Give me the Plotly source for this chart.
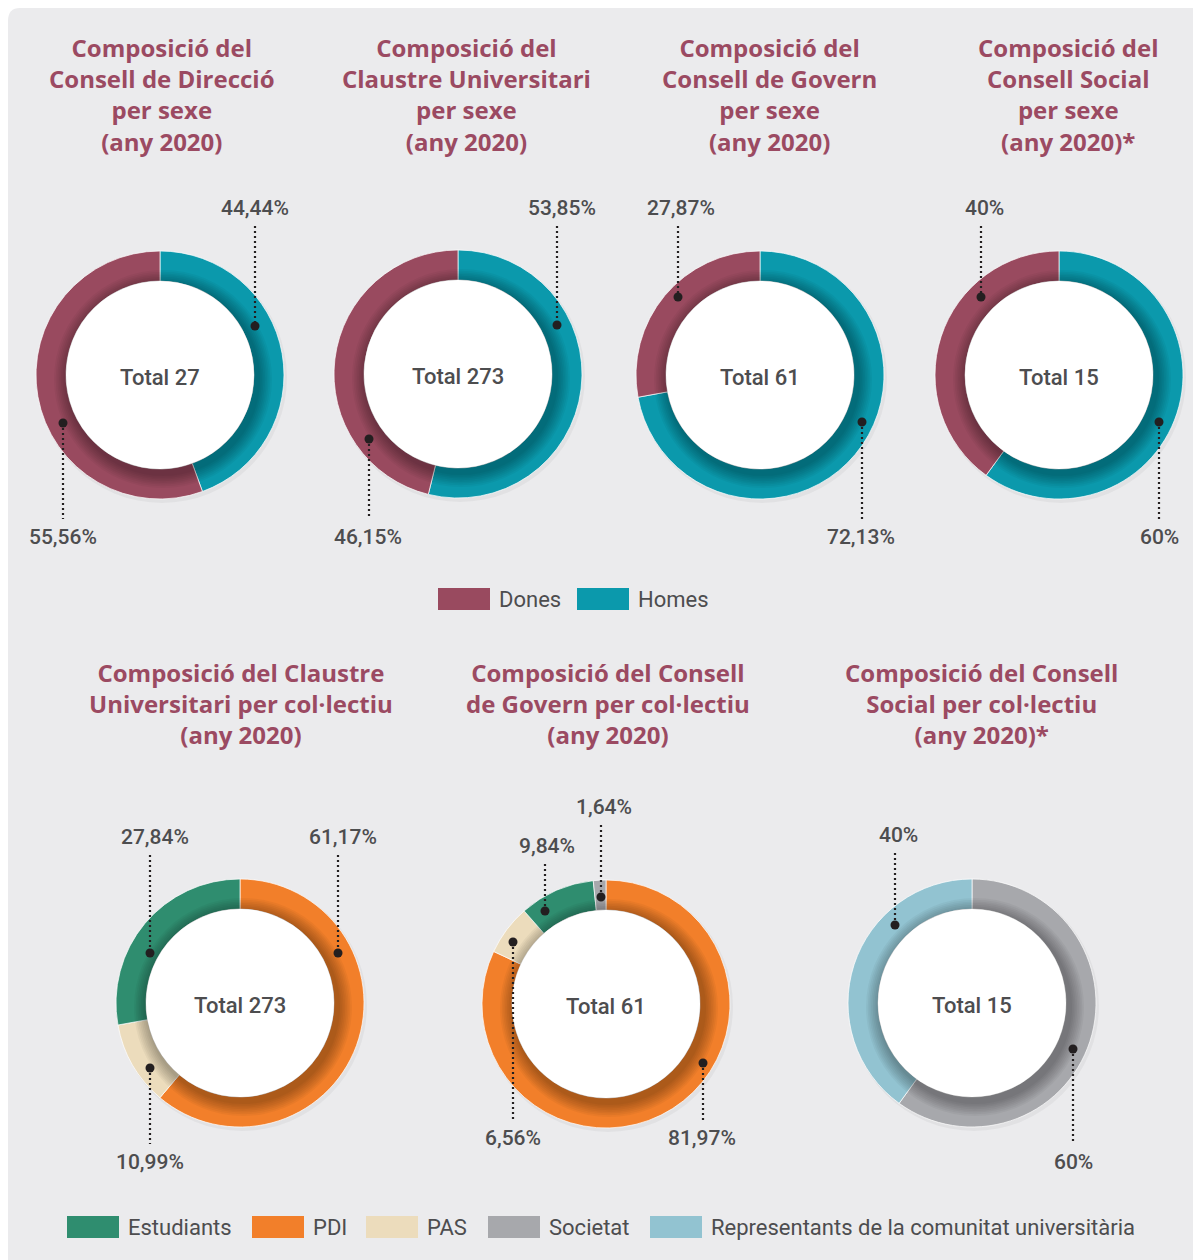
import plotly.graph_objects as go

# ---- data -------------------------------------------------------------
sexe_titles = [
    ["Composició del", "Consell de Direcció", "per sexe", "(any 2020)"],
    ["Composició del", "Claustre Universitari", "per sexe", "(any 2020)"],
    ["Composició del", "Consell de Govern", "per sexe", "(any 2020)"],
    ["Composició del", "Consell Social", "per sexe", "(any 2020)*"],
]
sexe_labels = ["Homes", "Dones"]
sexe_totals = [27, 273, 61, 15]
homes_pct = [44.44, 53.85, 72.13, 60]
dones_pct = [55.56, 46.15, 27.87, 40]

collectiu_titles = [
    ["Composició del Claustre", "Universitari per col·lectiu", "(any 2020)"],
    ["Composició del Consell", "de Govern per col·lectiu", "(any 2020)"],
    ["Composició del Consell", "Social per col·lectiu", "(any 2020)*"],
]
collectiu_totals = [273, 61, 15]
claustre_labels = ["PDI", "PAS", "Estudiants"]
claustre_values = [61.17, 10.99, 27.84]
govern_labels = ["PDI", "PAS", "Estudiants", "Societat"]
govern_values = [81.97, 6.56, 9.84, 1.64]
social_labels = ["Societat", "Representants de la comunitat universitària"]
social_values = [60, 40]

legend_sexe = ["Dones", "Homes"]
legend_collectiu = ["Estudiants", "PDI", "PAS", "Societat",
                    "Representants de la comunitat universitària"]

# ---- style ------------------------------------------------------------
OFF = 8                      # page body margin
W, H = 1201 - OFF, 1260 - OFF
colors = {
    "Dones": "#994a5f", "Homes": "#0b99ac",
    "Estudiants": "#2f8d6f", "PDI": "#f27f2a", "PAS": "#ecdcbc",
    "Societat": "#a7a8ac", "Representants de la comunitat universitària": "#92c3d1",
}
title_color = "#9b4a62"
text_color = "#4d4d4f"
dot_color = "#231f20"
R_OUT, R_IN = 124, 94

# chart centres (px) and title block centre
top_centres = [(160, 375), (458, 374), (760, 375), (1059, 375)]
top_title_x = [162, 466, 769, 1068]
top_title_y = 94
bot_centres = [(240, 1003), (606, 1004), (972, 1003)]
bot_title_x = [241, 608, 981]
bot_title_y = 703

# callouts per slice: (dot x, dot y, label x, label y) in px
top_callouts = [
    [(255, 326, 255, 208), (63, 423, 63, 537)],
    [(557, 325, 562, 208), (369, 439, 368, 537)],
    [(862, 422, 861, 537), (678, 297, 681, 208)],
    [(1159, 422, 1159, 537), (981, 297, 984, 208)],
]
bot_callouts = [
    [(338, 953, 343, 837), (150, 1068, 150, 1162), (150, 953, 155, 837)],
    [(703, 1063, 702, 1138), (513, 942, 513, 1138), (545, 911, 547, 846), (601, 897, 604, 807)],
    [(1073, 1049, 1073, 1162), (895, 925, 898, 835)],
]


def px(x):
    return (x - OFF) / W


def py(y):
    return 1 - (y - OFF) / H


def fmt_pct(v):
    s = f"{v:.2f}".rstrip("0").rstrip(".")
    return s.replace(".", ",") + "%"


fig = go.Figure()
shapes = []
annotations = []

# background panel with rounded corner
shapes.append(dict(
    type="path", xref="paper", yref="paper", layer="below",
    path=(f"M {px(8)},{py(21)} Q {px(8)},{py(8)} {px(20)},{py(8)} "
          f"L {px(1201)},{py(8)} L {px(1201)},{py(1260)} L {px(8)},{py(1260)} Z"),
    fillcolor="#ebebed", line=dict(width=0),
))


def add_donut(cx, cy, labels, values, total, callouts):
    # soft outer shadow
    shapes.append(dict(
        type="circle", xref="paper", yref="paper", layer="below",
        x0=px(cx - R_OUT + 1), x1=px(cx + R_OUT + 3),
        y0=py(cy + R_OUT + 4), y1=py(cy - R_OUT + 1),
        fillcolor="rgba(0,0,0,0.04)", line=dict(width=0),
    ))
    fig.add_trace(go.Pie(
        labels=labels, values=values, hole=R_IN / R_OUT,
        sort=False, direction="clockwise", rotation=0,
        marker=dict(colors=[colors[l] for l in labels],
                    line=dict(color="rgba(255,255,255,0.7)", width=1)),
        textinfo="none", hoverinfo="label+percent", showlegend=False,
        domain=dict(x=[px(cx - R_OUT), px(cx + R_OUT)],
                    y=[py(cy + R_OUT), py(cy - R_OUT)]),
    ))
    # inner shadow cast by the white centre
    for k in range(8):
        r = R_IN + 15 - k * 1.7
        shapes.append(dict(
            type="circle", xref="paper", yref="paper",
            x0=px(cx + 3 - r), x1=px(cx + 3 + r),
            y0=py(cy + 4 + r), y1=py(cy + 4 - r),
            fillcolor="rgba(0,0,0,0.04)", line=dict(width=0),
        ))
    shapes.append(dict(
        type="circle", xref="paper", yref="paper",
        x0=px(cx - R_IN), x1=px(cx + R_IN),
        y0=py(cy + R_IN), y1=py(cy - R_IN),
        fillcolor="white", line=dict(width=0),
    ))
    annotations.append(dict(
        x=px(cx), y=py(cy + 2), xref="paper", yref="paper",
        text=f"Total {total}", showarrow=False,
        font=dict(family="Roboto", size=22, color=text_color, weight=500),
        xanchor="center", yanchor="middle",
    ))
    for v, (dx, dy, lx, ly) in zip(values, callouts):
        if ly < dy:
            y0, y1 = ly + 18, dy
        else:
            y0, y1 = dy, ly - 18
        shapes.append(dict(
            type="line", xref="paper", yref="paper",
            x0=px(dx), x1=px(dx), y0=py(y0), y1=py(y1),
            line=dict(color=dot_color, width=2.2, dash="2px,3px"),
        ))
        shapes.append(dict(
            type="circle", xref="paper", yref="paper",
            x0=px(dx - 4.5), x1=px(dx + 4.5), y0=py(dy + 4.5), y1=py(dy - 4.5),
            fillcolor=dot_color, line=dict(width=0),
        ))
        annotations.append(dict(
            x=px(lx), y=py(ly), xref="paper", yref="paper",
            text=fmt_pct(v), showarrow=False,
            font=dict(family="Roboto", size=21, color=text_color, weight=500),
            xanchor="center", yanchor="middle",
        ))


def add_title(lines, x, y):
    annotations.append(dict(
        x=px(x), y=py(y), xref="paper", yref="paper",
        text="<br>".join(lines), showarrow=False, align="center",
        font=dict(family="Open Sans", size=24, color=title_color, weight=750),
        xanchor="center", yanchor="middle",
    ))


for i in range(4):
    cx, cy = top_centres[i]
    add_title(sexe_titles[i], top_title_x[i], top_title_y)
    add_donut(cx, cy, sexe_labels, [homes_pct[i], dones_pct[i]],
              sexe_totals[i], top_callouts[i])

bot_sets = [(claustre_labels, claustre_values),
            (govern_labels, govern_values),
            (social_labels, social_values)]
for i in range(3):
    cx, cy = bot_centres[i]
    add_title(collectiu_titles[i], bot_title_x[i], bot_title_y)
    labs, vals = bot_sets[i]
    add_donut(cx, cy, labs, vals, collectiu_totals[i], bot_callouts[i])


def add_legend(items, swatch_x, y):
    for name, x in zip(items, swatch_x):
        shapes.append(dict(
            type="rect", xref="paper", yref="paper",
            x0=px(x), x1=px(x + 52), y0=py(y + 11), y1=py(y - 11),
            fillcolor=colors[name], line=dict(width=0),
        ))
        annotations.append(dict(
            x=px(x + 59), y=py(y), xref="paper", yref="paper",
            text=name, showarrow=False,
            font=dict(family="Roboto", size=22, color=text_color),
            xanchor="left", yanchor="middle",
        ))


add_legend(legend_sexe, [438, 577], 599)
add_legend(legend_collectiu, [67, 252, 366, 488, 650], 1227)

fig.update_layout(
    width=W, height=H,
    margin=dict(l=0, r=0, t=0, b=0),
    paper_bgcolor="white", plot_bgcolor="white",
    shapes=shapes, annotations=annotations,
    showlegend=False,
)

fig.write_html("out.html")
